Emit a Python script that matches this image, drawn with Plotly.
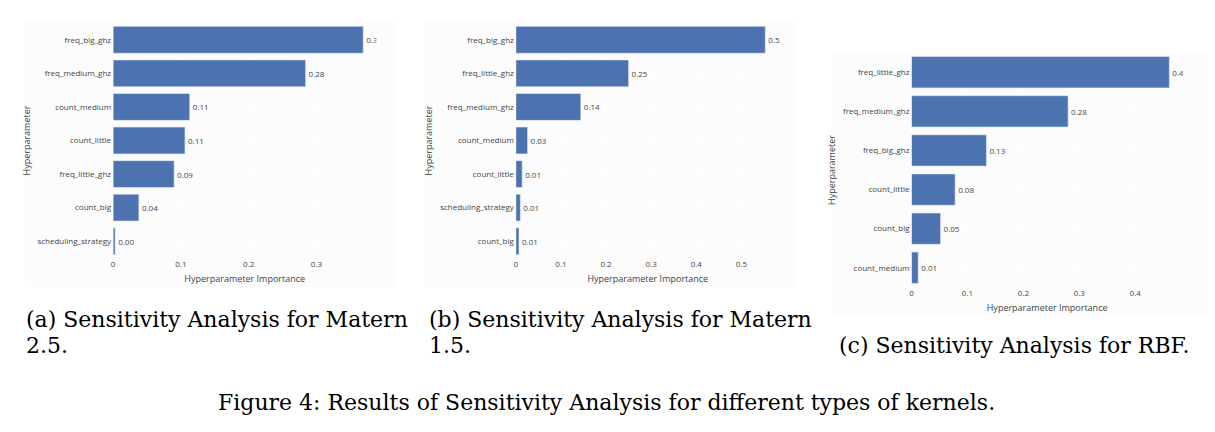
import plotly.graph_objects as go

W, H = 1215, 432

# ---- data (top-to-bottom order as shown) ----
params_a = ["freq_big_ghz", "freq_medium_ghz", "count_medium", "count_little",
            "freq_little_ghz", "count_big", "scheduling_strategy"]
imp_a = [0.369, 0.284, 0.113, 0.106, 0.090, 0.038, 0.003]

params_b = ["freq_big_ghz", "freq_little_ghz", "freq_medium_ghz", "count_medium",
            "count_little", "scheduling_strategy", "count_big"]
imp_b = [0.553, 0.250, 0.144, 0.026, 0.014, 0.010, 0.007]

params_c = ["freq_little_ghz", "freq_medium_ghz", "freq_big_ghz", "count_little",
            "count_big", "count_medium"]
imp_c = [0.461, 0.280, 0.134, 0.078, 0.052, 0.012]

ticks_a = [0, 0.1, 0.2, 0.3]
ticks_b = [0, 0.1, 0.2, 0.3, 0.4, 0.5]
ticks_c = [0, 0.1, 0.2, 0.3, 0.4]

captions = [
    ["(a) Sensitivity Analysis for Matern", "2.5."],
    ["(b) Sensitivity Analysis for Matern", "1.5."],
    ["", "(c) Sensitivity Analysis for RBF."],
]
fig_caption = "Figure 4: Results of Sensitivity Analysis for different types of kernels."

# ---- layout geometry (pixels) ----
panels = [
    dict(params=params_a, imp=imp_a, ticks=ticks_a, x0=111.3, x1=375.0, y0=23.0, y1=258.0, xmax=0.3884,
         bg=(23, 22, 395, 287)),
    dict(params=params_b, imp=imp_b, ticks=ticks_b, x0=514.7, x1=779.0, y0=23.0, y1=258.0, xmax=0.585,
         bg=(423, 22, 795, 287)),
    dict(params=params_c, imp=imp_c, ticks=ticks_c, x0=911.0, x1=1182.7, y0=52.7, y1=287.3, xmax=0.485,
         bg=(832, 52, 1208, 316)),
]

BAR = "#4C72B0"
PLOTBG = "#EAEAF2"
TXT = "#444444"
FONT = "Open Sans"

fig = go.Figure()
layout = dict(
    width=W, height=H, margin=dict(l=0, r=0, t=0, b=0),
    paper_bgcolor="white", plot_bgcolor=PLOTBG, showlegend=False,
    font=dict(family=FONT, size=8, color=TXT),
)
shapes = []

for i, p in enumerate(panels):
    n = "" if i == 0 else str(i + 1)
    fig.add_trace(go.Bar(
        x=p["imp"][::-1], y=p["params"][::-1], orientation="h",
        marker=dict(color=BAR, line=dict(color="#E8ECF6", width=0.6)),
        texttemplate="%{x:.2f}", textposition="outside",
        textfont=dict(family=FONT, size=8, color=TXT),
        cliponaxis=True, xaxis="x" + n, yaxis="y" + n,
    ))
    layout["xaxis" + n] = dict(
        domain=[p["x0"] / W, p["x1"] / W], range=[0, p["xmax"]], anchor="y" + n,
        tickvals=p["ticks"], ticktext=[("0" if t == 0 else str(t)) for t in p["ticks"]],
        showgrid=True, gridcolor="white", gridwidth=1, zeroline=True, zerolinecolor="white",
        zerolinewidth=1, ticks="", showline=False, tickfont=dict(size=8, color=TXT),
        title=dict(text="Hyperparameter Importance", font=dict(size=9, color=TXT), standoff=7),
        fixedrange=True,
    )
    layout["yaxis" + n] = dict(
        domain=[1 - p["y1"] / H, 1 - p["y0"] / H], anchor="x" + n,
        showgrid=True, gridcolor="white", gridwidth=1, ticks="", showline=False,
        tickfont=dict(size=8, color=TXT), ticklabelstandoff=1,
        title=dict(text="Hyperparameter", font=dict(size=9, color=TXT), standoff=5),
        fixedrange=True,
    )
    bx0, by0, bx1, by1 = p["bg"]
    shapes.append(dict(
        type="rect", xref="paper", yref="paper", layer="below",
        x0=bx0 / W, x1=bx1 / W, y0=1 - by1 / H, y1=1 - by0 / H,
        fillcolor="#FCFCFD", line=dict(width=0),
    ))

fig.update_layout(**layout)
for s in shapes:
    fig.add_shape(**s)

# captions
SERIF = "DejaVu Serif"
CAP_SIZE = 22
cap_x = [22.5, 425.5, 836.0]
for cx, lines in zip(cap_x, captions):
    for j, line in enumerate(lines):
        if not line:
            continue
        yc = 319.0 + j * 26.5
        fig.add_annotation(
            text=line, xref="paper", yref="paper", x=cx / W, y=1 - yc / H,
            xanchor="left", yanchor="middle", showarrow=False,
            font=dict(family=SERIF, size=CAP_SIZE, color="black"),
        )
fig.add_annotation(
    text=fig_caption, xref="paper", yref="paper", x=605.5 / W, y=1 - 402.0 / H,
    xanchor="center", yanchor="middle", showarrow=False,
    font=dict(family=SERIF, size=CAP_SIZE, color="black"),
)

fig.write_html("out.html")
